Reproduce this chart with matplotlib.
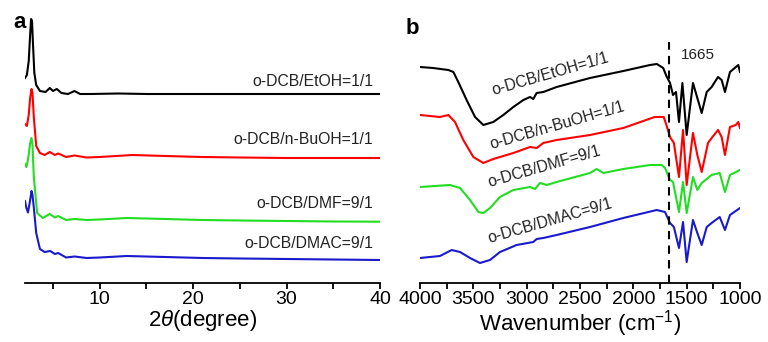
import matplotlib
matplotlib.use("Agg")
import matplotlib.pyplot as plt

plt.rcParams['font.family'] = ['Liberation Sans', 'DejaVu Sans']
plt.rcParams['mathtext.fontset'] = 'custom'
plt.rcParams['mathtext.rm'] = 'Liberation Sans'
plt.rcParams['mathtext.it'] = 'Liberation Sans:italic'

# ---------------- Panel a: XRD ----------------
labels = ["o-DCB/EtOH=1/1", "o-DCB/n-BuOH=1/1", "o-DCB/DMF=9/1", "o-DCB/DMAC=9/1"]
colors = ["black", "red", "#22dd22", "#1a1acc"]

xrd_black_x = [2.0, 2.2, 2.4, 2.55, 2.65, 2.75, 2.85, 3.0, 3.2, 3.6, 4.2, 4.65, 5.0, 5.4, 5.9,
               6.6, 7.3, 7.9, 9, 12, 15, 20, 25, 30, 35, 40]
xrd_black_y = [205, 208, 222, 248, 264, 262, 240, 210, 198, 192, 191, 195, 192, 194, 190,
               189, 192, 189, 189, 189.5, 189, 189, 189, 189, 189, 189]

xrd_red_x = [2.0, 2.2, 2.4, 2.55, 2.7, 2.8, 2.95, 3.2, 3.6, 4.1, 4.65, 5.2, 5.55, 6.4, 7.3,
             8.6, 10, 13.5, 17, 21, 25, 30, 35, 40]
xrd_red_y = [159, 157, 168, 185, 194, 190, 165, 137, 130, 128, 131, 128, 129.5, 126, 127.5,
             125.5, 126, 128, 127, 126, 125.5, 125, 125, 125]

xrd_green_x = [2.0, 2.15, 2.35, 2.55, 2.7, 2.8, 2.95, 3.3, 3.9, 4.65, 5.2, 5.55, 6.4, 7.3,
               8.6, 10, 12.9, 17, 21, 25, 30, 35, 40]
xrd_green_y = [119, 116, 125, 140, 145, 138, 105, 70, 65, 69, 65.5, 67, 63, 64,
               63, 63.5, 65, 64, 63, 62.5, 62, 61.5, 61.3]

xrd_blue_x = [2.0, 2.15, 2.32, 2.5, 2.7, 2.8, 2.95, 3.2, 3.6, 4.1, 4.7, 5.2, 5.55, 6.4, 7.3,
              8.6, 10, 12.9, 17, 21, 25, 30, 35, 40]
xrd_blue_y = [82, 75, 70.5, 80, 92, 88, 75, 50, 34, 31, 32, 29, 30, 25.5, 26.5,
              25, 25.5, 27, 26, 25, 24.5, 24, 23.5, 23]

xrd_label_y = [202, 144, 80, 39]

# ---------------- Panel b: FTIR ----------------
ir_black_x = [4000, 3878, 3734, 3687, 3641, 3563, 3484, 3406, 3313, 3219, 3125, 3031, 2969, 2938,
              2906, 2844, 2719, 2406, 2094, 1844, 1780, 1720, 1690, 1656, 1628, 1600, 1572, 1540,
              1500, 1441, 1400, 1359, 1312, 1266, 1206, 1172, 1141, 1094, 1016, 1000]
ir_black_y = [216, 215, 213, 211, 201, 183, 166, 158, 161, 168, 176, 183, 186, 184,
              190, 191, 196, 205, 212, 218, 219, 215, 207, 200, 188, 191, 161, 200,
              148, 200, 185, 170, 191, 196, 206, 203, 191, 211, 218, 211]

ir_red_x = [4000, 3813, 3734, 3672, 3594, 3500, 3406, 3313, 3250, 3125, 2969, 2906, 2844, 2719,
            2406, 2094, 1800, 1715, 1690, 1656, 1620, 1572, 1534, 1500, 1441, 1400, 1359,
            1300, 1266, 1206, 1172, 1141, 1094, 1040, 1016, 1000]
ir_red_y = [168, 166, 168, 161, 143, 126, 120, 124, 126, 130, 136, 135, 140, 143,
            148, 155, 166, 166, 158, 146, 140, 106, 153, 98, 150, 128, 111,
            140, 145, 153, 146, 128, 156, 158, 161, 155]

ir_green_x = [4000, 3719, 3625, 3531, 3453, 3406, 3344, 3250, 3125, 2969, 2922, 2875, 2813, 2719,
              2406, 2344, 2281, 2094, 1844, 1734, 1703, 1656, 1628, 1572, 1534, 1500, 1441,
              1400, 1359, 1312, 1266, 1190, 1141, 1094, 1000]
ir_green_y = [96, 98, 95, 83, 71, 70, 75, 86, 93, 96, 94, 100, 98, 101,
              110, 114, 110, 114, 118, 118, 115, 103, 101, 71, 101, 70, 106,
              93, 100, 104, 108, 110, 91, 108, 113]

ir_blue_x = [4000, 3813, 3703, 3625, 3531, 3438, 3344, 3250, 3094, 2938, 2906, 2844, 2719, 2406,
             2094, 1781, 1703, 1656, 1620, 1572, 1534, 1500, 1441, 1400, 1359, 1312, 1266,
             1190, 1141, 1094, 1000]
ir_blue_y = [25, 27, 33, 31, 25, 20, 23, 31, 38, 41, 44, 45, 48, 56,
             65, 73, 71, 60, 56, 35, 61, 21, 63, 50, 38, 56, 60,
             66, 53, 68, 75]

ir_label_x = [2781, 2716, 2838, 2781]
ir_label_y = [209, 158, 116, 62]
marker_wn = 1665

fig = plt.figure(figsize=(7.68, 3.42), dpi=100)
H = 342.0
W = 768.0
axa = fig.add_axes([25 / W, 1 - 283 / H, (380 - 25) / W, 283 / H])
axb = fig.add_axes([420 / W, 1 - 283 / H, (740 - 420) / W, 283 / H])

xs = [xrd_black_x, xrd_red_x, xrd_green_x, xrd_blue_x]
ys = [xrd_black_y, xrd_red_y, xrd_green_y, xrd_blue_y]
for x, y, c, lab, ly in zip(xs, ys, colors, labels, xrd_label_y):
    axa.plot(x, y, color=c, lw=1.5)
    axa.text(39.3, ly, lab, color='#222222', fontsize=11.3, ha='right', va='center')

axa.set_xlim(2, 40)
axa.set_ylim(0, 283)
axa.set_xticks([10, 20, 30, 40])
axa.set_xticks([5, 15, 25, 35], minor=True)
axa.set_yticks([])
for s in ['left', 'right', 'top']:
    axa.spines[s].set_visible(False)
axa.spines['bottom'].set_linewidth(1.3)
axa.tick_params(axis='x', which='both', direction='out', length=4, width=1.3, labelsize=14, pad=2)
axa.set_xlabel(r'2$\theta$(degree)', fontsize=16, labelpad=0)
axa.patch.set_alpha(0)

ixs = [ir_black_x, ir_red_x, ir_green_x, ir_blue_x]
iys = [ir_black_y, ir_red_y, ir_green_y, ir_blue_y]
for x, y, c, lab, lx, ly in zip(ixs, iys, colors, labels, ir_label_x, ir_label_y):
    axb.plot(x, y, color=c, lw=1.5)
    axb.text(lx, ly, lab, color='#222222', fontsize=11.3, ha='center', va='center',
             rotation=16, rotation_mode='anchor')

axb.plot([marker_wn, marker_wn], [0, 241], color='black', lw=1.5, ls=(0, (4, 3)))
axb.text(1553, 228, str(marker_wn), fontsize=11, ha='left', va='center', color='#222222')

axb.set_xlim(4000, 1000)
axb.set_ylim(0, 283)
axb.set_xticks([4000, 3500, 3000, 2500, 2000, 1500, 1000])
axb.set_xticks([3750, 3250, 2750, 2250, 1750, 1250], minor=True)
axb.set_yticks([])
for s in ['left', 'right', 'top']:
    axb.spines[s].set_visible(False)
axb.spines['bottom'].set_linewidth(1.3)
axb.tick_params(axis='x', which='both', direction='out', length=4, width=1.3, labelsize=14, pad=2)
axb.set_xlabel(r'Wavenumber (cm$^{-1}$)', fontsize=16, labelpad=0)
axb.patch.set_alpha(0)

fig.text(13 / W, 1 - 23 / H, 'a', fontsize=16, fontweight='bold', ha='left', va='center')
fig.text(406 / W, 1 - 28 / H, 'b', fontsize=16, fontweight='bold', ha='left', va='center')

fig.savefig('out.png', dpi=100)
